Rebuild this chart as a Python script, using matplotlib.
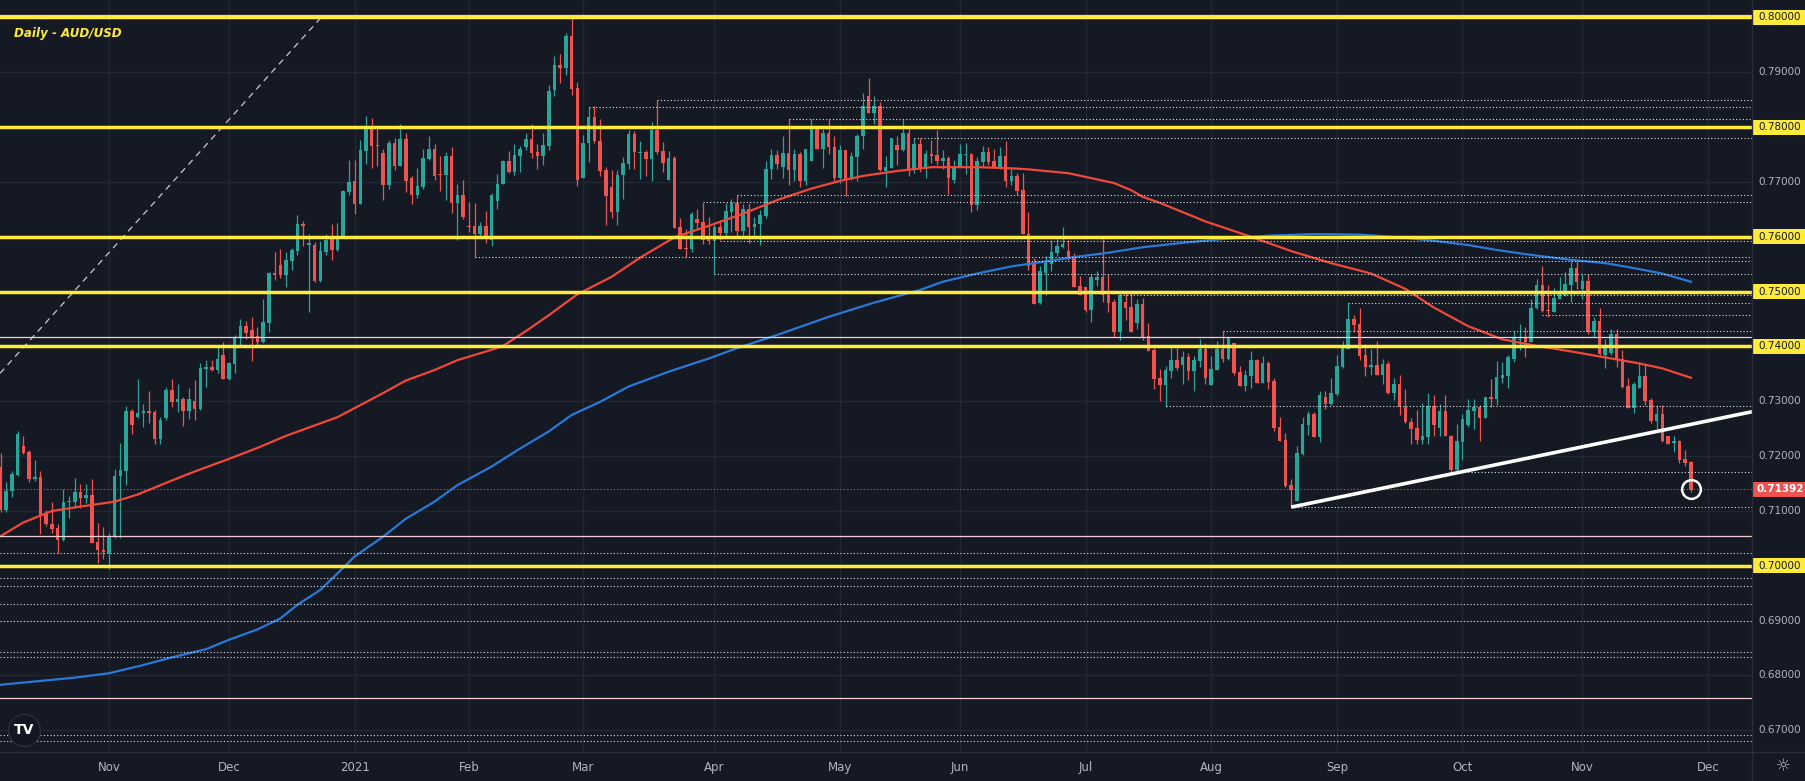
import numpy as np
import pandas as pd
import matplotlib
matplotlib.use('Agg')
import matplotlib.pyplot as plt
import matplotlib.transforms as mtransforms
from matplotlib.lines import Line2D
from matplotlib.patches import Rectangle

# daily AUD/USD candles, 2020-10-06 .. 2021-11-26 (one row per month)
OPEN = [
    0.7181, 0.7102, 0.7137, 0.7165, 0.7218, 0.7208, 0.7158, 0.7162, 0.7095, 0.7076, 0.7069, 0.7047, 0.7116, 0.7116, 0.7135, 0.7124, 0.7129, 0.7043, 0.7029,
    0.7024, 0.7052, 0.7164, 0.7173, 0.7283, 0.7272, 0.7278, 0.7282, 0.7280, 0.7231, 0.7269, 0.7321, 0.7298, 0.7305, 0.7283, 0.7301, 0.7286, 0.7359, 0.7363, 0.7358, 0.7385,
    0.7341, 0.7368, 0.7415, 0.7437, 0.7430, 0.7419, 0.7408, 0.7443, 0.7534, 0.7549, 0.7530, 0.7556, 0.7575, 0.7623, 0.7585, 0.7585, 0.7519, 0.7573, 0.7597, 0.7576, 0.7600, 0.7682,
    0.7702, 0.7660, 0.7757, 0.7798, 0.7768, 0.7752, 0.7695, 0.7771, 0.7729, 0.7778, 0.7707, 0.7676, 0.7690, 0.7742, 0.7761, 0.7715, 0.7712, 0.7747, 0.7661, 0.7676,
    0.7620, 0.7620, 0.7605, 0.7619, 0.7594, 0.7665, 0.7696, 0.7738, 0.7719, 0.7748, 0.7763, 0.7778, 0.7755, 0.7748, 0.7766, 0.7868, 0.7913, 0.7908, 0.7966, 0.7871,
    0.7708, 0.7771, 0.7818, 0.7775, 0.7722, 0.7691, 0.7646, 0.7712, 0.7733, 0.7788, 0.7752, 0.7754, 0.7742, 0.7795, 0.7756, 0.7704, 0.7744, 0.7618, 0.7579, 0.7578, 0.7633, 0.7627, 0.7597,
    0.7593, 0.7618, 0.7607, 0.7646, 0.7662, 0.7611, 0.7651, 0.7617, 0.7623, 0.7638, 0.7723, 0.7749, 0.7727, 0.7753, 0.7721, 0.7751, 0.7702, 0.7739, 0.7798, 0.7760, 0.7790, 0.7763,
    0.7708, 0.7758, 0.7705, 0.7746, 0.7783, 0.7857, 0.7826, 0.7839, 0.7720, 0.7726, 0.7767, 0.7758, 0.7789, 0.7722, 0.7770, 0.7725, 0.7751, 0.7749, 0.7738, 0.7743, 0.7704,
    0.7727, 0.7749, 0.7751, 0.7658, 0.7736, 0.7754, 0.7738, 0.7727, 0.7747, 0.7701, 0.7711, 0.7685, 0.7606, 0.7552, 0.7479, 0.7534, 0.7551, 0.7571, 0.7581, 0.7575, 0.7565, 0.7510,
    0.7509, 0.7467, 0.7522, 0.7526, 0.7494, 0.7482, 0.7427, 0.7482, 0.7472, 0.7443, 0.7477, 0.7419, 0.7394, 0.7342, 0.7329, 0.7356, 0.7375, 0.7366, 0.7380, 0.7356, 0.7374, 0.7395,
    0.7330, 0.7357, 0.7395, 0.7377, 0.7406, 0.7353, 0.7328, 0.7346, 0.7375, 0.7334, 0.7369, 0.7337, 0.7253, 0.7229, 0.7147, 0.7118, 0.7203, 0.7257, 0.7277, 0.7235, 0.7307, 0.7295,
    0.7313, 0.7363, 0.7395, 0.7450, 0.7441, 0.7384, 0.7363, 0.7366, 0.7348, 0.7368, 0.7316, 0.7332, 0.7290, 0.7263, 0.7251, 0.7229, 0.7235, 0.7292, 0.7252, 0.7282, 0.7236, 0.7175,
    0.7226, 0.7257, 0.7282, 0.7290, 0.7269, 0.7308, 0.7304, 0.7343, 0.7346, 0.7377, 0.7411, 0.7416, 0.7409, 0.7470, 0.7512, 0.7467, 0.7463, 0.7487, 0.7494, 0.7512, 0.7543,
    0.7504, 0.7519, 0.7427, 0.7446, 0.7384, 0.7389, 0.7422, 0.7377, 0.7328, 0.7288, 0.7324, 0.7346, 0.7302, 0.7264, 0.7277, 0.7237, 0.7224, 0.7227, 0.7195, 0.7190,
]
HIGH = [
    0.7205, 0.7153, 0.7172, 0.7245, 0.7237, 0.7211, 0.7193, 0.7172, 0.7102, 0.7117, 0.7076, 0.7140, 0.7127, 0.7160, 0.7149, 0.7149, 0.7158, 0.7078, 0.7071,
    0.7060, 0.7176, 0.7224, 0.7291, 0.7286, 0.7341, 0.7295, 0.7318, 0.7284, 0.7271, 0.7327, 0.7340, 0.7332, 0.7308, 0.7324, 0.7338, 0.7369, 0.7375, 0.7375, 0.7399, 0.7408,
    0.7371, 0.7421, 0.7450, 0.7447, 0.7453, 0.7435, 0.7487, 0.7536, 0.7572, 0.7578, 0.7573, 0.7580, 0.7640, 0.7629, 0.7606, 0.7591, 0.7592, 0.7606, 0.7623, 0.7625, 0.7685, 0.7741,
    0.7741, 0.7776, 0.7820, 0.7816, 0.7798, 0.7760, 0.7777, 0.7781, 0.7806, 0.7789, 0.7710, 0.7725, 0.7760, 0.7783, 0.7769, 0.7747, 0.7754, 0.7763, 0.7697, 0.7704,
    0.7664, 0.7661, 0.7627, 0.7647, 0.7679, 0.7715, 0.7741, 0.7756, 0.7770, 0.7765, 0.7790, 0.7806, 0.7770, 0.7790, 0.7877, 0.7929, 0.7933, 0.7972, 0.8005, 0.7883,
    0.7786, 0.7836, 0.7838, 0.7815, 0.7727, 0.7722, 0.7722, 0.7746, 0.7794, 0.7793, 0.7775, 0.7758, 0.7809, 0.7850, 0.7773, 0.7756, 0.7747, 0.7634, 0.7614, 0.7646, 0.7651, 0.7662, 0.7636,
    0.7622, 0.7630, 0.7662, 0.7669, 0.7676, 0.7660, 0.7661, 0.7636, 0.7649, 0.7738, 0.7760, 0.7758, 0.7784, 0.7815, 0.7761, 0.7755, 0.7760, 0.7814, 0.7804, 0.7796, 0.7814, 0.7784,
    0.7767, 0.7758, 0.7755, 0.7787, 0.7862, 0.7890, 0.7857, 0.7845, 0.7747, 0.7781, 0.7784, 0.7814, 0.7798, 0.7781, 0.7781, 0.7758, 0.7777, 0.7795, 0.7758, 0.7747, 0.7741,
    0.7769, 0.7772, 0.7752, 0.7746, 0.7766, 0.7763, 0.7761, 0.7763, 0.7775, 0.7725, 0.7716, 0.7716, 0.7645, 0.7562, 0.7547, 0.7565, 0.7595, 0.7596, 0.7617, 0.7595, 0.7571, 0.7528,
    0.7509, 0.7533, 0.7538, 0.7596, 0.7533, 0.7486, 0.7495, 0.7497, 0.7497, 0.7487, 0.7489, 0.7443, 0.7397, 0.7359, 0.7364, 0.7401, 0.7398, 0.7392, 0.7389, 0.7383, 0.7414, 0.7406,
    0.7383, 0.7410, 0.7428, 0.7418, 0.7406, 0.7364, 0.7357, 0.7391, 0.7377, 0.7383, 0.7374, 0.7342, 0.7272, 0.7243, 0.7158, 0.7219, 0.7272, 0.7282, 0.7280, 0.7319, 0.7319, 0.7342,
    0.7384, 0.7410, 0.7479, 0.7457, 0.7470, 0.7405, 0.7395, 0.7410, 0.7377, 0.7374, 0.7342, 0.7348, 0.7322, 0.7270, 0.7284, 0.7296, 0.7316, 0.7311, 0.7295, 0.7311, 0.7238, 0.7259,
    0.7277, 0.7305, 0.7305, 0.7294, 0.7307, 0.7340, 0.7374, 0.7372, 0.7384, 0.7428, 0.7441, 0.7435, 0.7486, 0.7523, 0.7547, 0.7512, 0.7506, 0.7526, 0.7535, 0.7555, 0.7555,
    0.7532, 0.7532, 0.7454, 0.7471, 0.7414, 0.7431, 0.7431, 0.7393, 0.7343, 0.7336, 0.7371, 0.7368, 0.7306, 0.7294, 0.7293, 0.7237, 0.7236, 0.7229, 0.7211, 0.7192,
]
LOW = [
    0.7099, 0.7099, 0.7126, 0.7163, 0.7204, 0.7152, 0.7155, 0.7058, 0.7073, 0.7060, 0.7023, 0.7046, 0.7087, 0.7105, 0.7105, 0.7114, 0.7041, 0.7006, 0.7012,
    0.6995, 0.7051, 0.7050, 0.7147, 0.7240, 0.7269, 0.7254, 0.7261, 0.7223, 0.7222, 0.7265, 0.7290, 0.7281, 0.7255, 0.7267, 0.7266, 0.7284, 0.7327, 0.7355, 0.7351, 0.7340,
    0.7339, 0.7352, 0.7403, 0.7413, 0.7374, 0.7403, 0.7407, 0.7427, 0.7522, 0.7525, 0.7509, 0.7539, 0.7567, 0.7584, 0.7463, 0.7518, 0.7518, 0.7567, 0.7558, 0.7575, 0.7600, 0.7676,
    0.7642, 0.7660, 0.7733, 0.7726, 0.7730, 0.7668, 0.7688, 0.7722, 0.7729, 0.7682, 0.7660, 0.7670, 0.7688, 0.7741, 0.7704, 0.7684, 0.7668, 0.7644, 0.7594, 0.7632,
    0.7608, 0.7564, 0.7599, 0.7589, 0.7583, 0.7651, 0.7696, 0.7716, 0.7713, 0.7718, 0.7758, 0.7743, 0.7724, 0.7731, 0.7758, 0.7856, 0.7881, 0.7895, 0.7859, 0.7693,
    0.7708, 0.7737, 0.7772, 0.7710, 0.7622, 0.7635, 0.7622, 0.7669, 0.7724, 0.7724, 0.7705, 0.7711, 0.7701, 0.7751, 0.7718, 0.7704, 0.7616, 0.7578, 0.7564, 0.7573, 0.7614, 0.7587, 0.7587,
    0.7532, 0.7594, 0.7600, 0.7608, 0.7601, 0.7603, 0.7589, 0.7602, 0.7585, 0.7635, 0.7705, 0.7724, 0.7707, 0.7695, 0.7701, 0.7691, 0.7694, 0.7739, 0.7760, 0.7726, 0.7751, 0.7702,
    0.7699, 0.7675, 0.7704, 0.7702, 0.7760, 0.7826, 0.7805, 0.7720, 0.7690, 0.7725, 0.7731, 0.7757, 0.7711, 0.7717, 0.7719, 0.7707, 0.7734, 0.7731, 0.7723, 0.7678, 0.7699,
    0.7727, 0.7715, 0.7646, 0.7649, 0.7727, 0.7731, 0.7726, 0.7723, 0.7690, 0.7695, 0.7676, 0.7605, 0.7540, 0.7478, 0.7478, 0.7494, 0.7538, 0.7565, 0.7579, 0.7558, 0.7509, 0.7493,
    0.7462, 0.7445, 0.7511, 0.7482, 0.7463, 0.7418, 0.7411, 0.7448, 0.7427, 0.7432, 0.7412, 0.7392, 0.7322, 0.7301, 0.7290, 0.7343, 0.7357, 0.7332, 0.7339, 0.7319, 0.7362, 0.7332,
    0.7330, 0.7357, 0.7372, 0.7375, 0.7348, 0.7328, 0.7318, 0.7325, 0.7333, 0.7333, 0.7322, 0.7245, 0.7228, 0.7144, 0.7107, 0.7118, 0.7202, 0.7239, 0.7235, 0.7225, 0.7286, 0.7293,
    0.7310, 0.7361, 0.7395, 0.7427, 0.7375, 0.7347, 0.7348, 0.7348, 0.7332, 0.7314, 0.7302, 0.7275, 0.7261, 0.7222, 0.7222, 0.7222, 0.7223, 0.7236, 0.7236, 0.7236, 0.7171, 0.7171,
    0.7193, 0.7254, 0.7250, 0.7228, 0.7269, 0.7290, 0.7294, 0.7334, 0.7324, 0.7372, 0.7394, 0.7380, 0.7409, 0.7468, 0.7462, 0.7454, 0.7462, 0.7487, 0.7492, 0.7482, 0.7504,
    0.7486, 0.7423, 0.7418, 0.7384, 0.7360, 0.7384, 0.7363, 0.7325, 0.7288, 0.7279, 0.7324, 0.7293, 0.7260, 0.7250, 0.7226, 0.7222, 0.7207, 0.7188, 0.7182, 0.7135,
]
CLOSE = [
    0.7102, 0.7137, 0.7168, 0.7240, 0.7205, 0.7158, 0.7162, 0.7093, 0.7076, 0.7067, 0.7047, 0.7117, 0.7119, 0.7135, 0.7124, 0.7129, 0.7042, 0.7028, 0.7026,
    0.7052, 0.7164, 0.7175, 0.7283, 0.7257, 0.7278, 0.7282, 0.7279, 0.7231, 0.7266, 0.7321, 0.7298, 0.7304, 0.7283, 0.7304, 0.7286, 0.7361, 0.7362, 0.7357, 0.7377, 0.7341,
    0.7369, 0.7417, 0.7437, 0.7425, 0.7416, 0.7408, 0.7445, 0.7534, 0.7530, 0.7530, 0.7558, 0.7576, 0.7623, 0.7620, 0.7588, 0.7519, 0.7574, 0.7594, 0.7576, 0.7601, 0.7683, 0.7700,
    0.7660, 0.7758, 0.7798, 0.7766, 0.7765, 0.7695, 0.7771, 0.7729, 0.7778, 0.7701, 0.7676, 0.7693, 0.7743, 0.7761, 0.7710, 0.7712, 0.7747, 0.7661, 0.7676, 0.7637,
    0.7618, 0.7605, 0.7619, 0.7597, 0.7676, 0.7697, 0.7738, 0.7719, 0.7749, 0.7760, 0.7778, 0.7752, 0.7748, 0.7767, 0.7866, 0.7913, 0.7908, 0.7966, 0.7870, 0.7704,
    0.7771, 0.7818, 0.7774, 0.7720, 0.7675, 0.7646, 0.7713, 0.7734, 0.7788, 0.7754, 0.7754, 0.7742, 0.7795, 0.7755, 0.7734, 0.7744, 0.7616, 0.7578, 0.7578, 0.7642, 0.7625, 0.7594, 0.7593,
    0.7618, 0.7607, 0.7647, 0.7662, 0.7611, 0.7651, 0.7617, 0.7623, 0.7640, 0.7724, 0.7749, 0.7732, 0.7753, 0.7721, 0.7751, 0.7702, 0.7760, 0.7798, 0.7760, 0.7790, 0.7763, 0.7708,
    0.7758, 0.7705, 0.7747, 0.7784, 0.7839, 0.7826, 0.7839, 0.7721, 0.7727, 0.7780, 0.7758, 0.7789, 0.7722, 0.7770, 0.7725, 0.7751, 0.7748, 0.7738, 0.7743, 0.7708, 0.7728,
    0.7751, 0.7751, 0.7658, 0.7738, 0.7754, 0.7736, 0.7727, 0.7747, 0.7701, 0.7711, 0.7684, 0.7605, 0.7547, 0.7478, 0.7537, 0.7553, 0.7573, 0.7583, 0.7587, 0.7563, 0.7509, 0.7493,
    0.7467, 0.7527, 0.7526, 0.7493, 0.7480, 0.7427, 0.7493, 0.7471, 0.7427, 0.7477, 0.7415, 0.7392, 0.7341, 0.7329, 0.7357, 0.7375, 0.7361, 0.7380, 0.7356, 0.7375, 0.7395, 0.7343,
    0.7359, 0.7395, 0.7377, 0.7415, 0.7352, 0.7328, 0.7348, 0.7375, 0.7334, 0.7369, 0.7335, 0.7252, 0.7228, 0.7146, 0.7138, 0.7205, 0.7259, 0.7277, 0.7235, 0.7311, 0.7295, 0.7315,
    0.7364, 0.7398, 0.7450, 0.7439, 0.7383, 0.7363, 0.7366, 0.7348, 0.7368, 0.7316, 0.7332, 0.7289, 0.7263, 0.7250, 0.7229, 0.7237, 0.7292, 0.7256, 0.7282, 0.7236, 0.7175, 0.7228,
    0.7268, 0.7284, 0.7290, 0.7269, 0.7307, 0.7304, 0.7345, 0.7348, 0.7380, 0.7417, 0.7414, 0.7408, 0.7471, 0.7512, 0.7465, 0.7465, 0.7489, 0.7495, 0.7514, 0.7543, 0.7518,
    0.7519, 0.7427, 0.7446, 0.7386, 0.7397, 0.7422, 0.7375, 0.7327, 0.7288, 0.7332, 0.7346, 0.7301, 0.7264, 0.7277, 0.7228, 0.7223, 0.7227, 0.7193, 0.7187, 0.7139,
]
LAST_PRICE = 0.71392

# moving averages: (bar number, price)
MA_RED_BAR = [0, 4, 9, 14, 20, 24, 28, 33, 40, 45, 50, 55, 59, 63, 67, 71, 76, 80, 86, 88, 92, 96, 101, 107,
              112, 118, 124, 130, 136, 142, 147, 151, 157, 163, 171, 177, 180, 184, 187, 191, 195, 198,
              200, 203, 211, 219, 226, 233, 240, 246, 251, 257, 263, 269, 275, 281, 287, 291, 296]
MA_RED = [0.7054, 0.7079, 0.7100, 0.7108, 0.7117, 0.7130, 0.7147, 0.7168, 0.7195, 0.7215, 0.7237, 0.7256,
          0.7271, 0.7293, 0.7315, 0.7338, 0.7357, 0.7375, 0.7394, 0.7401, 0.7428, 0.7457, 0.7495, 0.7527,
          0.7562, 0.7599, 0.7620, 0.7642, 0.7667, 0.7688, 0.7702, 0.7711, 0.7720, 0.7727, 0.7727, 0.7725,
          0.7723, 0.7719, 0.7716, 0.7707, 0.7698, 0.7685, 0.7673, 0.7662, 0.7628, 0.7600, 0.7574, 0.7552,
          0.7533, 0.7505, 0.7471, 0.7437, 0.7413, 0.7401, 0.7391, 0.7380, 0.7369, 0.7360, 0.7343]
MA_BLUE_BAR = [0, 7, 13, 19, 25, 30, 36, 40, 45, 49, 52, 56, 59, 62, 67, 71, 76, 80, 86, 91, 96, 100, 105,
               110, 117, 124, 129, 136, 145, 153, 161, 165, 171, 177, 183, 188, 194, 200, 207, 214, 222,
               230, 238, 245, 250, 257, 262, 268, 275, 281, 286, 291, 296]
MA_BLUE = [0.6783, 0.6790, 0.6796, 0.6804, 0.6819, 0.6833, 0.6848, 0.6865, 0.6884, 0.6904, 0.6929, 0.6956,
           0.6986, 0.7017, 0.7053, 0.7086, 0.7117, 0.7147, 0.7181, 0.7214, 0.7245, 0.7275, 0.7299, 0.7327,
           0.7354, 0.7378, 0.7397, 0.7421, 0.7454, 0.7480, 0.7503, 0.7518, 0.7533, 0.7546, 0.7555, 0.7563,
           0.7571, 0.7581, 0.7589, 0.7596, 0.7602, 0.7605, 0.7604, 0.7599, 0.7594, 0.7585, 0.7576, 0.7567,
           0.7558, 0.7552, 0.7543, 0.7533, 0.7518]

# drawn levels
YELLOW_LEVELS = [0.80, 0.78, 0.76, 0.75, 0.74, 0.70]
PINK_LEVELS = [0.8005, 0.7417, 0.7054, 0.6758]
DOTTED_FULL = [0.7023, 0.6977, 0.6964, 0.6931, 0.6900, 0.6842, 0.6833, 0.6691, 0.6680]
DOTTED_FROM_DATE = ['2021-03-18', '2021-03-02', '2021-04-20', '2021-05-20', '2021-04-07', '2021-03-30',
                    '2021-04-02', '2021-02-02', '2021-06-17', '2021-04-01', '2021-07-09', '2021-09-03',
                    '2021-10-21', '2021-08-04', '2021-07-21', '2021-09-29', '2021-08-20']
DOTTED_FROM_PRICE = [0.7849, 0.7836, 0.7815, 0.7780, 0.7676, 0.7663,
                     0.7592, 0.7563, 0.7556, 0.7532, 0.7494, 0.7479,
                     0.7458, 0.7428, 0.7291, 0.7171, 0.7107]
TREND_START = ('2021-08-20', 0.7107)
TREND_END_PRICE = 0.7281
DIAG_PRICES = (0.7351, 0.8003)
DIAG_END_BAR = 56.4

PRICE_TICKS = [0.80, 0.79, 0.78, 0.77, 0.76, 0.75, 0.74, 0.73, 0.72, 0.71, 0.70, 0.69, 0.68, 0.67]

# colours
BG = '#151924'
GRID = '#232733'
SEP = '#2a2e39'
GREEN = '#26a69a'
RED = '#ef5350'
YELLOW = '#ffeb3b'
PINK = '#f5cdd4'
DOTS = '#dfe1e8'
MA_RED_C = '#f0483a'
MA_BLUE_C = '#2a79d6'
TXT = '#b2b5be'

# bar positions
dates = pd.bdate_range('2020-10-06', '2021-12-31')
dates = dates.drop([pd.Timestamp('2020-12-25'), pd.Timestamp('2021-01-01')])
n = len(CLOSE)
x = np.arange(n)
open_ = np.array(OPEN)
high = np.array(HIGH)
low = np.array(LOW)
close = np.array(CLOSE)


def bar_of(day):
    return int(np.searchsorted(dates, pd.Timestamp(day)))


# setup figure
W, H = 1806, 781
fig = plt.figure(figsize=(W / 100, H / 100), dpi=100, facecolor=BG)
ax = fig.add_axes([0, 29 / H, 1752 / W, 752 / H])
ax.set_facecolor(BG)
XMIN, XMAX = -0.09, 306.7
YMIN, YMAX = 0.66604, 0.80319
ax.set_xlim(XMIN, XMAX)
ax.set_ylim(YMIN, YMAX)
for s in ax.spines.values():
    s.set_visible(False)

# grid
month_bars, month_labels = [], []
for m in pd.date_range('2020-11-01', '2021-12-01', freq='MS'):
    month_bars.append(bar_of(m))
    month_labels.append('2021' if (m.month == 1) else m.strftime('%b'))
ax.set_xticks(month_bars)
ax.set_xticklabels(month_labels)
ax.set_yticks(PRICE_TICKS)
ax.set_yticklabels([])
ax.tick_params(axis='x', length=0, pad=6.5, labelsize=8.5, labelcolor=TXT)
ax.tick_params(axis='y', length=0)
ax.grid(True, color=GRID, linewidth=1.0, zorder=0)
ax.set_axisbelow(True)

# candles
colors = np.where(close >= open_, GREEN, RED)
ax.vlines(x, low, high, colors=colors, linewidth=0.9, zorder=2)
body_lo = np.minimum(open_, close)
body_h = np.maximum(np.abs(close - open_), 0.00007)
ax.bar(x, body_h, bottom=body_lo, width=0.62, color=colors, linewidth=0, zorder=3)

# moving averages
ax.plot(MA_RED_BAR, MA_RED, color=MA_RED_C, linewidth=1.6, zorder=4)
ax.plot(MA_BLUE_BAR, MA_BLUE, color=MA_BLUE_C, linewidth=1.6, zorder=4)

# horizontal levels
dot = (0, (1, 2))
for p in PINK_LEVELS:
    ax.axhline(p, color=PINK, linewidth=0.9, zorder=5)
for p in DOTTED_FULL:
    ax.axhline(p, color=DOTS, linewidth=0.8, linestyle=dot, zorder=5)
for d, p in zip(DOTTED_FROM_DATE, DOTTED_FROM_PRICE):
    ax.plot([bar_of(d), XMAX], [p, p], color=DOTS, linewidth=0.8, linestyle=dot, zorder=5)
for p in YELLOW_LEVELS:
    ax.axhline(p, color=YELLOW, linewidth=2.5, zorder=6)
ax.axhline(LAST_PRICE, color=RED, linewidth=0.8, linestyle=dot, zorder=5)

# trend line and dashed diagonal
ax.plot([bar_of(TREND_START[0]), XMAX], [TREND_START[1], TREND_END_PRICE],
        color='white', linewidth=2.6, solid_capstyle='butt', zorder=7)
ax.plot([XMIN, DIAG_END_BAR], DIAG_PRICES, color='#cfc6d2', linewidth=0.9,
        linestyle=(0, (5, 4)), zorder=5)

# circle round the last candle
ax.plot([n - 1], [LAST_PRICE], marker='o', markersize=13.5, markerfacecolor='none',
        markeredgecolor='white', markeredgewidth=1.8, zorder=8)

# price scale on the right
trans = mtransforms.blended_transform_factory(ax.transAxes, ax.transData)
x0 = 1753 / 1752
x1 = W / 1752
xc = (1753 + 27) / 1752
box_h = 15 / 5483
for p in PRICE_TICKS:
    if any(abs(p - y) < 1e-9 for y in YELLOW_LEVELS):
        ax.add_patch(Rectangle((x0, p - box_h / 2), x1 - x0, box_h, transform=trans,
                               facecolor=YELLOW, edgecolor='none', clip_on=False, zorder=9))
        ax.text(xc, p, f'{p:.5f}', transform=trans, ha='center', va='center',
                fontsize=7.5, color='#131722', clip_on=False, zorder=10)
    else:
        ax.text(xc, p, f'{p:.5f}', transform=trans, ha='center', va='center',
                fontsize=7.5, color=TXT, clip_on=False, zorder=10)
ax.add_patch(Rectangle((x0, LAST_PRICE - box_h / 2), x1 - x0, box_h, transform=trans,
                       facecolor=RED, edgecolor='none', clip_on=False, zorder=9))
ax.text(xc, LAST_PRICE, f'{LAST_PRICE:.5f}', transform=trans, ha='center', va='center',
        fontsize=7.5, color='white', fontweight='bold', clip_on=False, zorder=10)

# separators
fig.add_artist(Line2D([1752.5 / W, 1752.5 / W], [0, 1], color=SEP, linewidth=1.0))
fig.add_artist(Line2D([0, 1], [29 / H, 29 / H], color=SEP, linewidth=1.0))

# title, logo and settings icon
fig.text(14 / W, 1 - 33 / H, 'Daily - AUD/USD', color=YELLOW, fontsize=8.6,
         fontstyle='italic', fontweight='bold', va='center', ha='left')
fig.add_artist(Line2D([24.5 / W], [1 - 730 / H], marker='o', markersize=23,
                      markerfacecolor='#131722', markeredgecolor='#2a2e39', markeredgewidth=1.0))
fig.text(24.5 / W, 1 - 730 / H, 'TV', color='white', fontsize=10, fontweight='bold',
         ha='center', va='center')
fig.text(1783 / W, 1 - 766 / H, '\u263c', color=TXT, fontsize=12, ha='center', va='center')

fig.savefig('out.png', dpi=100, facecolor=BG)
plt.close(fig)
